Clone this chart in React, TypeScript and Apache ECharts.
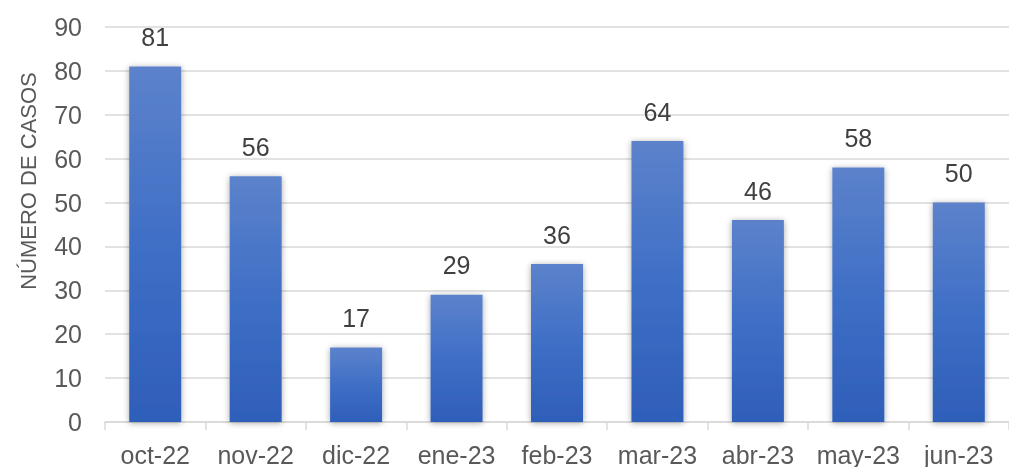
import React, { useEffect, useRef } from "react";
import * as echarts from "echarts";

const categories = ["oct-22", "nov-22", "dic-22", "ene-23", "feb-23", "mar-23", "abr-23", "may-23", "jun-23"];
const casos = [81, 56, 17, 29, 36, 64, 46, 58, 50];
const yTicks = { min: 0, max: 90, interval: 10 };
const yName = "NÚMERO DE CASOS";

export default function App() {
  const ref = useRef<HTMLDivElement>(null);
  useEffect(() => {
    if (!ref.current) return;
    const chart = echarts.init(ref.current, undefined, { renderer: "svg" });
    chart.setOption({
      animation: false,
      textStyle: { fontFamily: "Liberation Sans, Arial, sans-serif" },
      grid: { left: 105, right: -10, top: 27, bottom: 45 },
      graphic: [
        {
          type: "text",
          x: 28,
          y: 181,
          rotation: Math.PI / 2,
          style: {
            text: yName,
            fill: "#595959",
            fontSize: 22,
            fontFamily: "Liberation Sans, Arial, sans-serif",
            textAlign: "center",
            textVerticalAlign: "middle",
          },
        },
      ],
      xAxis: {
        type: "category",
        data: categories,
        axisLine: { lineStyle: { color: "#d9d9d9", width: 1.5 } },
        axisTick: { show: true, length: 8, lineStyle: { color: "#d9d9d9", width: 1.5 } },
        axisLabel: { color: "#595959", fontSize: 25, margin: 20, interval: 0, hideOverlap: false },
      },
      yAxis: {
        type: "value",
        min: yTicks.min,
        max: yTicks.max,
        interval: yTicks.interval,
        axisLine: { show: false },
        axisTick: { show: false },
        axisLabel: { color: "#595959", fontSize: 25, margin: 23 },
        splitLine: { lineStyle: { color: "#d9d9d9", width: 1.5 } },
      },
      series: [
        {
          type: "bar",
          data: casos,
          barWidth: 52,
          itemStyle: {
            color: new echarts.graphic.LinearGradient(0, 0, 0, 1, [
              { offset: 0, color: "#5c82cb" },
              { offset: 0.5, color: "#3f6fc6" },
              { offset: 1, color: "#2e5eb9" },
            ]),
            shadowBlur: 6,
            shadowColor: "rgba(0,0,0,0.35)",
            shadowOffsetX: 0,
            shadowOffsetY: 1,
          },
          label: {
            show: true,
            position: "top",
            distance: 17,
            color: "#404040",
            fontSize: 25,
          },
        },
      ],
    });
    return () => chart.dispose();
  }, []);
  return <div ref={ref} style={{ position: "fixed", left: 0, top: 0, width: 1009, height: 467 }} />;
}
